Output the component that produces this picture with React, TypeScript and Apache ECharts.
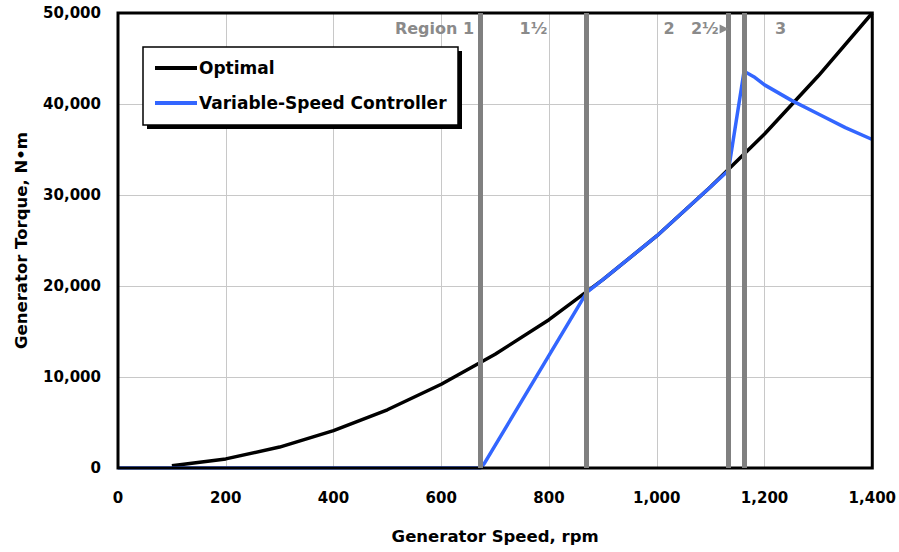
import React, { useEffect, useRef } from "react";
import * as echarts from "echarts";

const optimalSpeed = [100, 200, 300, 400, 500, 600, 700, 800, 900, 1000, 1100, 1200, 1300, 1400];
const optimalTorque = [250, 1000, 2300, 4100, 6400, 9200, 12500, 16300, 20700, 25500, 30900, 36700, 43100, 50000];

const controllerSpeed = [0, 673, 680, 870, 900, 1000, 1100, 1133, 1162, 1180, 1200, 1250, 1300, 1350, 1400];
const controllerTorque = [0, 0, 500, 19300, 20700, 25500, 30900, 32700, 43600, 43000, 42100, 40400, 38900, 37400, 36100];

const regionBoundaries = [673, 870, 1133, 1162];
const regionLabels = [
  { text: "Region 1", speed: 661, align: "right" },
  { text: "1½", speed: 771, align: "center" },
  { text: "2", speed: 1023, align: "center" },
  { text: "2½", speed: 1089, align: "center" },
  { text: "3", speed: 1230, align: "center" },
];
const regionArrowSpeed = 1125;
const regionLabelTorque = 48250;

const FONT = "DejaVu Sans";
const fmt = (v: number) => v.toLocaleString("en-US");

export default function App() {
  const ref = useRef<HTMLDivElement>(null);
  useEffect(() => {
    const chart = echarts.init(ref.current!, null, { renderer: "svg" });
    chart.setOption({
      animation: false,
      backgroundColor: "#fff",
      grid: { left: 118, right: 24, top: 13, bottom: 84, show: true, borderColor: "#000", borderWidth: 3, backgroundColor: "transparent", z: 5 },
      xAxis: {
        type: "value", min: 0, max: 1400, interval: 200,
        name: "Generator Speed, rpm", nameLocation: "middle", nameGap: 60,
        nameTextStyle: { fontFamily: FONT, fontWeight: "bold", fontSize: 16.5, color: "#000" },
        axisLine: { show: false }, axisTick: { show: false },
        axisLabel: { fontFamily: FONT, fontWeight: "bold", fontSize: 15, color: "#000", margin: 22, formatter: fmt },
        splitLine: { show: true, lineStyle: { color: "#c8c8c8", width: 1 } },
      },
      yAxis: {
        type: "value", min: 0, max: 50000, interval: 10000,
        name: "Generator Torque, N•m", nameLocation: "middle", nameGap: 88, nameRotate: 90,
        nameTextStyle: { fontFamily: FONT, fontWeight: "bold", fontSize: 16.5, color: "#000" },
        axisLine: { show: false }, axisTick: { show: false },
        axisLabel: { fontFamily: FONT, fontWeight: "bold", fontSize: 15, color: "#000", margin: 17, formatter: fmt },
        splitLine: { show: true, lineStyle: { color: "#c8c8c8", width: 1 } },
      },
      legend: {
        orient: "vertical", left: 155, top: 59, padding: 0, itemWidth: 42, itemHeight: 4, itemGap: 17,
        textStyle: { fontFamily: FONT, fontWeight: "bold", fontSize: 17, color: "#000", padding: [0, 0, 0, -3], lineHeight: 18 },
        data: [{ name: "Optimal", icon: "rect" }, { name: "Variable-Speed Controller", icon: "rect" }],
        z: 20,
      },
      graphic: [
        { type: "rect", z: 15, shape: { x: 147, y: 51, width: 315, height: 78 }, style: { fill: "#000" } },
        { type: "rect", z: 16, shape: { x: 143, y: 47, width: 315, height: 78 }, style: { fill: "#fff", stroke: "#000", lineWidth: 1.5 } },
      ],
      series: [
        {
          name: "Optimal", type: "line", z: 2, showSymbol: false, symbol: "none",
          data: optimalSpeed.map((s, i) => [s, optimalTorque[i]]),
          lineStyle: { color: "#000", width: 3.5 }, itemStyle: { color: "#000" },
        },
        {
          name: "regions", type: "line", z: 3, data: [], silent: true,
          markLine: {
            symbol: "none", silent: true, label: { show: false },
            lineStyle: { color: "#808080", width: 5, type: "solid" },
            data: regionBoundaries.map((b) => ({ xAxis: b })),
          },
          markPoint: {
            silent: true,
            data: [
              ...regionLabels.map((r) => ({
                coord: [r.speed, regionLabelTorque], symbol: "circle", symbolSize: 0,
                label: { show: true, position: "inside", formatter: r.text, align: r.align, verticalAlign: "middle", fontFamily: FONT, fontWeight: "bold", fontSize: 16, color: "#8a8a8a" },
              })),
              {
                coord: [regionArrowSpeed, regionLabelTorque], symbol: "triangle", symbolRotate: -90, symbolSize: [9, 9],
                itemStyle: { color: "#8a8a8a" }, label: { show: false },
              },
            ],
          },
        },
        {
          name: "Variable-Speed Controller", type: "line", z: 4, showSymbol: false, symbol: "none",
          data: controllerSpeed.map((s, i) => [s, controllerTorque[i]]),
          lineStyle: { color: "#3366ff", width: 3.5 }, itemStyle: { color: "#3366ff" },
        },
      ],
    });
    return () => chart.dispose();
  }, []);
  return <div ref={ref} style={{ position: "fixed", left: 0, top: 0, width: 899, height: 552 }} />;
}
